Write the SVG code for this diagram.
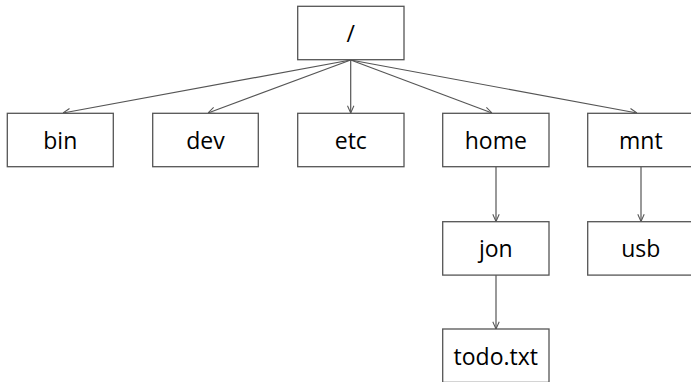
<svg xmlns="http://www.w3.org/2000/svg" width="691" height="382" viewBox="0 0 691 382">
<style>
.box{fill:#fff;stroke:#555;stroke-width:1.3}
.lbl{font-family:"Open Sans","DejaVu Sans",sans-serif;font-size:23px;fill:#000;text-anchor:middle}
.edge{fill:none;stroke:#555;stroke-width:1.2;marker-end:url(#arr)}
</style>
<defs>
<marker id="arr" viewBox="0 0 10 10" refX="10" refY="5" markerWidth="8" markerHeight="8" markerUnits="userSpaceOnUse" orient="auto">
<path d="M1,1 L10,5 L1,9" fill="none" stroke="#555" stroke-width="1.3"/>
</marker>
</defs>
<rect width="691" height="382" fill="#fff"/>
<g id="connectors">
<line class="edge" x1="350.7" y1="60" x2="63" y2="113"/>
<line class="edge" x1="350.7" y1="60" x2="208" y2="113"/>
<line class="edge" x1="350.7" y1="60" x2="350.7" y2="113"/>
<line class="edge" x1="350.7" y1="60" x2="492" y2="113"/>
<line class="edge" x1="350.7" y1="60" x2="637" y2="113"/>
<line class="edge" x1="496" y1="167" x2="496" y2="221.5"/>
<line class="edge" x1="641" y1="167" x2="641" y2="221.5"/>
<line class="edge" x1="496" y1="275" x2="496" y2="329"/>
</g>
<g id="root"><rect class="box" x="297.7" y="6.3" width="106.3" height="53.4"/><text class="lbl" x="350.8" y="42">/</text></g>
<g id="bin"><rect class="box" x="7.3" y="113.3" width="106" height="53.4"/><text class="lbl" x="60.3" y="148.5">bin</text></g>
<g id="dev"><rect class="box" x="152.7" y="113.3" width="105.6" height="53.4"/><text class="lbl" x="205.5" y="148.5">dev</text></g>
<g id="etc"><rect class="box" x="297.7" y="113.3" width="106.3" height="53.4"/><text class="lbl" x="350.8" y="148.5">etc</text></g>
<g id="home"><rect class="box" x="442.7" y="113.3" width="106.3" height="53.4"/><text class="lbl" x="495.8" y="148.5">home</text></g>
<g id="mnt"><rect class="box" x="587.7" y="113.3" width="106.3" height="53.4"/><text class="lbl" x="640.8" y="148.5">mnt</text></g>
<g id="jon"><rect class="box" x="442.7" y="221.7" width="106.3" height="53.4"/><text class="lbl" x="495.8" y="256.5">jon</text></g>
<g id="usb"><rect class="box" x="587.7" y="221.7" width="106.3" height="53.4"/><text class="lbl" x="640.8" y="256.5">usb</text></g>
<g id="todo"><rect class="box" x="442.7" y="329" width="106.3" height="53.4"/><text class="lbl" x="495.8" y="364.5">todo.txt</text></g>
</svg>
